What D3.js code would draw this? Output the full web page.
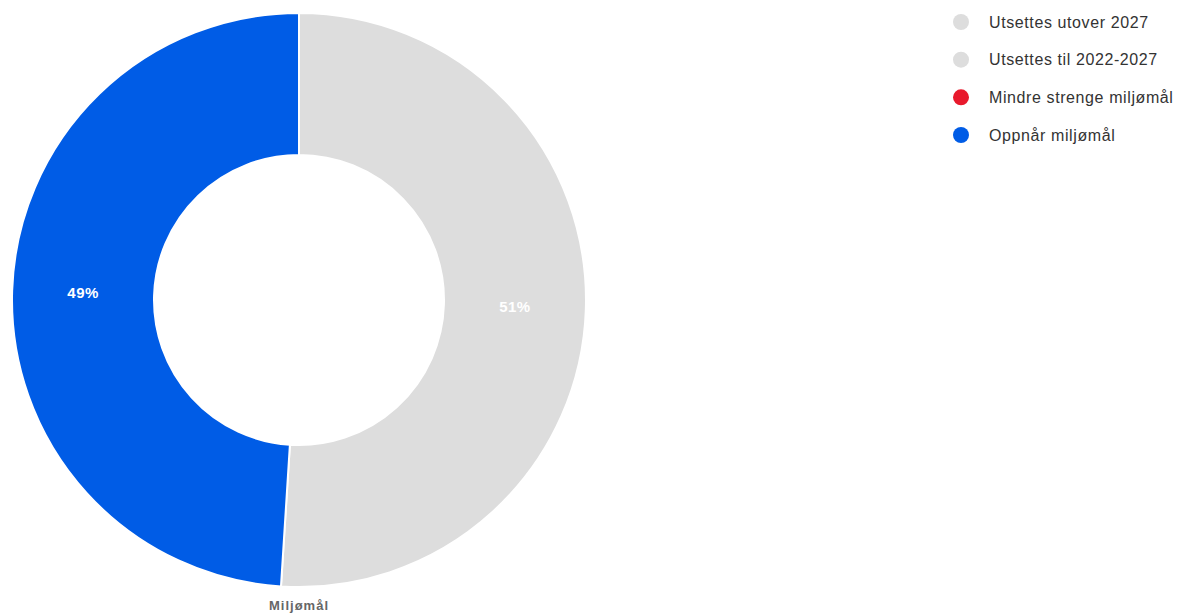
<!DOCTYPE html>
<meta charset="utf-8">
<script src="https://d3js.org/d3.v7.min.js"></script>
<style>
  body { margin: 0; background: #fff; }
  text { font-family: "Liberation Sans", Arial, sans-serif; }
</style>
<div id="my_dataviz"></div>
<script>

  // data
  var categories = ["Utsettes utover 2027", "Utsettes til 2022-2027", "Mindre strenge miljømål", "Oppnår miljømål"];
  var values = [0, 51, 0, 49];
  var colors = ["#dddddd", "#dddddd", "#e8192c", "#005ce6"];
  var title = "Miljømål";

  var width = 1177, height = 613;

  var svg = d3.select("#my_dataviz")
    .append("svg")
    .attr("width", width)
    .attr("height", height);

  var cx = 299, cy = 300, outer = 287, inner = 145;

  var pie = d3.pie().sort(null).value(function (d) { return d; });
  var arcs = pie(values);

  var arc = d3.arc().innerRadius(inner).outerRadius(outer);
  var labelArc = d3.arc().innerRadius((inner + outer) / 2).outerRadius((inner + outer) / 2);

  var g = svg.append("g")
    .attr("transform", "translate(" + cx + "," + cy + ")");

  g.selectAll("path")
    .data(arcs.filter(function (d) { return d.value > 0; }))
    .enter()
    .append("path")
    .attr("d", arc)
    .attr("fill", function (d) { return colors[d.index]; })
    .attr("stroke", "#fff")
    .attr("stroke-width", 2);

  // percentage labels
  var total = d3.sum(values);
  g.selectAll(".lbl")
    .data(arcs.filter(function (d) { return d.value > 0; }))
    .enter()
    .append("text")
    .attr("class", "lbl")
    .attr("transform", function (d) { return "translate(" + labelArc.centroid(d) + ")"; })
    .attr("text-anchor", "middle")
    .attr("dy", "0.35em")
    .attr("fill", "#fff")
    .attr("font-size", 15)
    .attr("font-weight", "bold")
    .attr("letter-spacing", "0.5px")
    .text(function (d) { return Math.round(d.value / total * 100) + "%"; });

  // title under the donut
  svg.append("text")
    .attr("x", cx)
    .attr("y", 610)
    .attr("text-anchor", "middle")
    .attr("fill", "#666")
    .attr("font-size", 13)
    .attr("font-weight", "bold")
    .attr("letter-spacing", "1px")
    .text(title);

  // legend
  var ly = d3.scalePoint().domain(categories).range([22, 135]);
  var legend = svg.selectAll(".legend")
    .data(categories)
    .enter()
    .append("g")
    .attr("class", "legend")
    .attr("transform", function (d) { return "translate(961," + ly(d) + ")"; });

  legend.append("circle")
    .attr("r", 8)
    .attr("fill", function (d, i) { return colors[i]; });

  legend.append("text")
    .attr("x", 28)
    .attr("dy", "0.35em")
    .attr("fill", "#333")
    .attr("font-size", 16)
    .attr("letter-spacing", "0.6px")
    .text(function (d) { return d; });

</script>
